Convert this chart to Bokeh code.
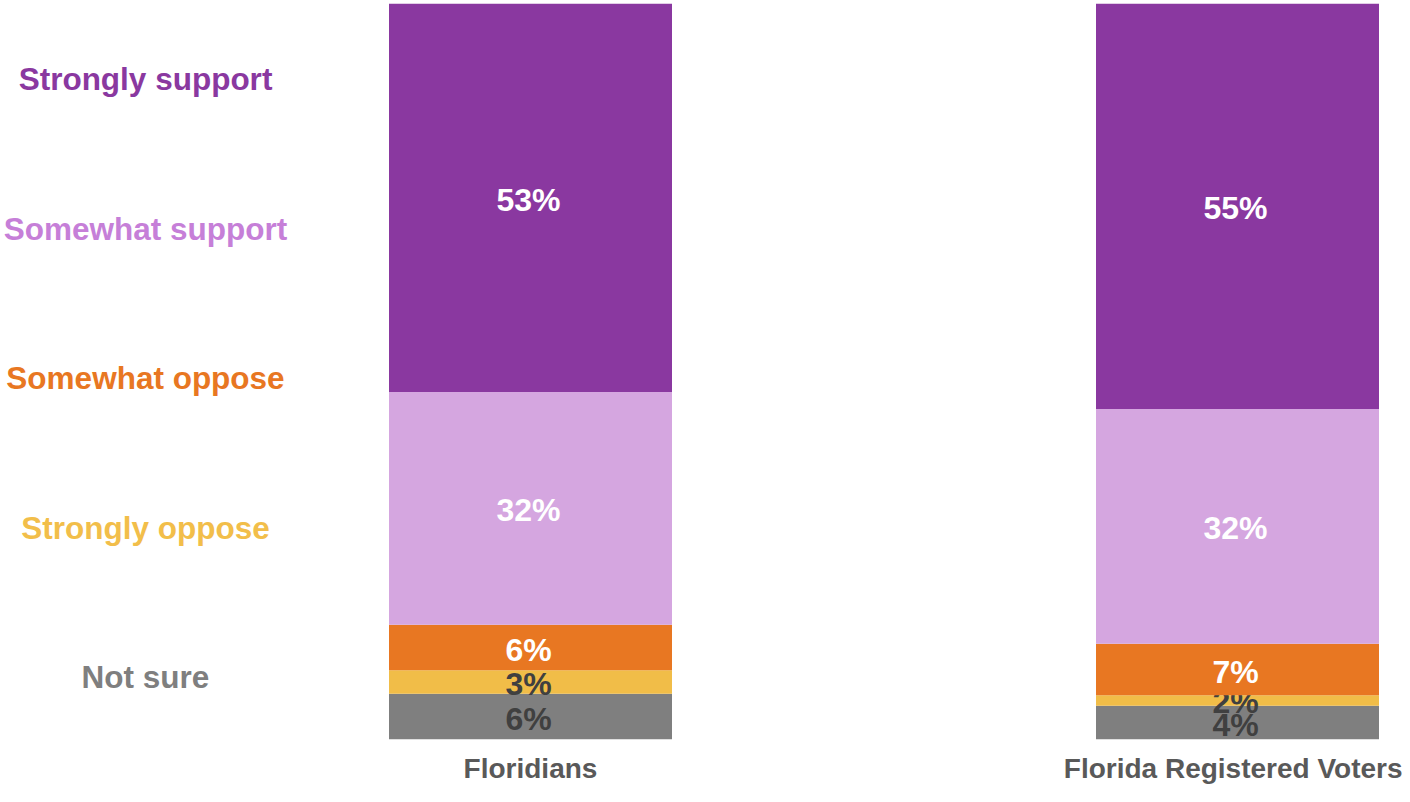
from bokeh.plotting import figure
from bokeh.models import ColumnDataSource, Range1d, FixedTicker
from bokeh.core.properties import value
from bokeh.embed import file_html
from bokeh.resources import INLINE

# ---- data ----
categories = ["Floridians", "Florida Registered Voters"]
responses = ["Not sure", "Strongly oppose", "Somewhat oppose", "Somewhat support", "Strongly support"]
not_sure = [6.2, 4.6]
strongly_oppose = [3.2, 1.4]
somewhat_oppose = [6.2, 7.0]
somewhat_support = [31.6, 31.9]
strongly_support = [52.8, 55.1]
label_not_sure = ["6%", "4%"]
label_strongly_oppose = ["3%", "2%"]
label_somewhat_oppose = ["6%", "7%"]
label_somewhat_support = ["32%", "32%"]
label_strongly_support = ["53%", "55%"]

series = [not_sure, strongly_oppose, somewhat_oppose, somewhat_support, strongly_support]
labels = [label_not_sure, label_strongly_oppose, label_somewhat_oppose,
          label_somewhat_support, label_strongly_support]

fill_colors = ["#7F7F7F", "#F1BD48", "#E87722", "#D5A6E0", "#8A38A0"]
text_colors = ["#404040", "#404040", "#FFFFFF", "#FFFFFF", "#FFFFFF"]
legend_colors = ["#7F7F7F", "#F2BE4A", "#E87722", "#C67FD8", "#8A38A0"]

FONT = "Liberation Sans"

W, H = 1402, 786
TOP, BOTTOM_BORDER = 3, 46
frame_h = H - TOP - BOTTOM_BORDER
px_per_unit = 707.0
x0_px = 530.0

p = figure(width=W, height=H, output_backend="svg", toolbar_location=None,
           x_range=Range1d(-x0_px / px_per_unit, (W - x0_px) / px_per_unit),
           y_range=Range1d(0, 100),
           min_border_left=0, min_border_right=0, min_border_top=TOP,
           min_border_bottom=BOTTOM_BORDER,
           y_axis_location=None, outline_line_color=None)
p.grid.visible = False
p.background_fill_color = "white"
p.border_fill_color = "white"

xpos = list(range(len(categories)))

bottoms = [0.0] * len(categories)
for vals, labs, fc, tc in zip(series, labels, fill_colors, text_colors):
    tops = [b + v for b, v in zip(bottoms, vals)]
    mids = [(b + t) / 2 for b, t in zip(bottoms, tops)]
    src = ColumnDataSource(dict(x=xpos, bottom=bottoms, top=tops, mid=mids, lab=labs))
    p.vbar(x="x", width=283 / px_per_unit, bottom="bottom", top="top", source=src,
           fill_color=fc, line_color=None)
    bottoms = tops
    p.text(x="x", y="mid", text="lab", source=src, text_color=tc,
           text_font=value(FONT), text_font_style="bold", text_font_size="32px",
           text_align="center", text_baseline="middle", y_offset=2, x_offset=-2)

# legend-like colored labels on the left
unit_px = frame_h / 100.0
leg_x = (145 - x0_px) / px_per_unit
leg_y_top = (TOP + frame_h - 79) / unit_px
leg_step = 149.7 / unit_px
for i, (name, col) in enumerate(zip(reversed(responses), reversed(legend_colors))):
    p.text(x=[leg_x], y=[leg_y_top - i * leg_step], text=[name], text_color=col,
           text_font=value(FONT), text_font_style="bold", text_font_size="31.5px",
           text_align="center", text_baseline="middle")

ax = p.xaxis[0]
ax.ticker = FixedTicker(ticks=xpos)
ax.major_label_overrides = {i: c for i, c in enumerate(categories)}
ax.axis_line_color = None
ax.major_tick_line_color = None
ax.minor_tick_line_color = None
ax.major_tick_out = 0
ax.major_tick_in = 0
ax.major_label_standoff = 13
ax.major_label_text_font = FONT
ax.major_label_text_font_style = "bold"
ax.major_label_text_font_size = "28px"
ax.major_label_text_color = "#595959"

open("out.html", "w").write(file_html(p, INLINE))
